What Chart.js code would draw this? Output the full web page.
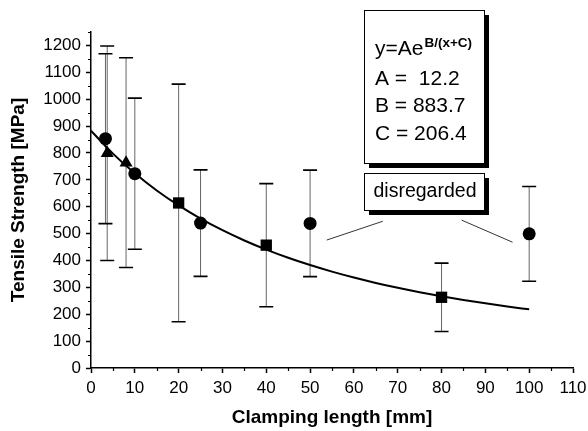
<!DOCTYPE html>
<html lang="en">
<head>
<meta charset="UTF-8">
<title>Tensile Strength vs Clamping Length</title>
<script src="https://cdn.jsdelivr.net/npm/chart.js"></script>
<style>
    body {
        margin: 0;
        padding: 0;
        background-color: #ffffff;
    }
    .chart-container {
        position: relative;
        width: 588px;
        height: 431px;
    }
</style>
</head>
<body>
<div class="chart-container">
    <canvas id="strengthChart"></canvas>
</div>
<script>
    // specimen groups: clamping length [mm], mean strength [MPa], scatter [MPa]
    const circleX = [3.3, 10, 25, 50, 100];
    const circleY = [853, 723, 539, 538, 499];
    const circleErr = [316, 281, 198, 198, 176];

    const triangleX = [3.7, 8];
    const triangleY = [799, 764];
    const triangleErr = [399, 390];

    const squareX = [20, 40, 80];
    const squareY = [614, 457, 263];
    const squareErr = [442, 229, 127];

    // fit y = A * e^(B / (x + C))
    const fitA = 12.2;
    const fitB = 883.7;
    const fitC = 206.4;
    const fitX = [0, 5, 10, 15, 20, 25, 30, 35, 40, 45, 50, 55, 60, 65, 70, 75, 80, 85, 90, 95, 100];

    const FONT = "'Liberation Sans', Arial, sans-serif";

    function toPoints(xs, ys) {
        return xs.map((x, i) => ({ x: x, y: ys[i] }));
    }

    const fitPoints = fitX.map(x => ({ x: x, y: fitA * Math.exp(fitB / (x + fitC)) }));

    // vertical scatter bars with caps, drawn under the markers
    const errorBars = {
        id: 'errorBars',
        beforeDatasetsDraw(chart) {
            const ctx = chart.ctx;
            const yScale = chart.scales.y;
            chart.data.datasets.forEach((ds, i) => {
                if (!ds.errors) return;
                const meta = chart.getDatasetMeta(i);
                meta.data.forEach((pt, j) => {
                    const v = ds.data[j].y;
                    const top = yScale.getPixelForValue(v + ds.errors[j]);
                    const bottom = yScale.getPixelForValue(v - ds.errors[j]);
                    ctx.save();
                    ctx.strokeStyle = '#666666';
                    ctx.lineWidth = 1;
                    ctx.beginPath();
                    ctx.moveTo(pt.x, top);
                    ctx.lineTo(pt.x, bottom);
                    ctx.stroke();
                    ctx.strokeStyle = '#000000';
                    ctx.lineWidth = 1.6;
                    ctx.beginPath();
                    ctx.moveTo(pt.x - 7, top);
                    ctx.lineTo(pt.x + 7, top);
                    ctx.moveTo(pt.x - 7, bottom);
                    ctx.lineTo(pt.x + 7, bottom);
                    ctx.stroke();
                    ctx.restore();
                });
            });
        }
    };

    function shadowBox(ctx, x0, y0, x1, y1) {
        ctx.fillStyle = '#000000';
        ctx.fillRect(x0 + 5, y0 + 5, x1 - x0, y1 - y0);
        ctx.fillStyle = '#ffffff';
        ctx.fillRect(x0, y0, x1 - x0, y1 - y0);
        ctx.strokeStyle = '#000000';
        ctx.lineWidth = 1;
        ctx.strokeRect(x0 + 0.5, y0 + 0.5, x1 - x0, y1 - y0);
    }

    // minor ticks, fit parameter box and the "disregarded" note
    const annotations = {
        id: 'annotations',
        afterDraw(chart) {
            const ctx = chart.ctx;
            const xs = chart.scales.x;
            const ys = chart.scales.y;
            const area = chart.chartArea;
            ctx.save();

            ctx.strokeStyle = '#000000';
            ctx.lineWidth = 1.2;
            ctx.beginPath();
            for (let v = 5; v < 110; v += 10) {
                const px = Math.round(xs.getPixelForValue(v)) + 0.5;
                ctx.moveTo(px, area.bottom);
                ctx.lineTo(px, area.bottom + 3);
            }
            for (let v = 50; v <= 1250; v += 100) {
                const py = Math.round(ys.getPixelForValue(v)) + 0.5;
                ctx.moveTo(area.left, py);
                ctx.lineTo(area.left - 3, py);
            }
            ctx.stroke();

            // connectors from the note to the two outlying points
            ctx.strokeStyle = '#333333';
            ctx.lineWidth = 1;
            ctx.beginPath();
            ctx.moveTo(xs.getPixelForValue(66.6), ys.getPixelForValue(546));
            ctx.lineTo(xs.getPixelForValue(53.8), ys.getPixelForValue(476));
            ctx.moveTo(xs.getPixelForValue(84.6), ys.getPixelForValue(550));
            ctx.lineTo(xs.getPixelForValue(96.2), ys.getPixelForValue(468));
            ctx.stroke();

            // parameter box
            const bx0 = Math.round(xs.getPixelForValue(62.3));
            const bx1 = Math.round(xs.getPixelForValue(89.7));
            const by0 = Math.round(ys.getPixelForValue(1330));
            const by1 = Math.round(ys.getPixelForValue(762));
            shadowBox(ctx, bx0, by0, bx1, by1);

            ctx.fillStyle = '#000000';
            ctx.textBaseline = 'alphabetic';
            ctx.textAlign = 'left';
            ctx.font = '21px ' + FONT;
            const tx = bx0 + 11;
            ctx.fillText('y=Ae', tx, by0 + 45);
            const w = ctx.measureText('y=Ae').width;
            ctx.font = 'bold 13.5px ' + FONT;
            ctx.fillText('B/(x+C)', tx + w + 1, by0 + 37);
            ctx.font = '21px ' + FONT;
            ctx.fillText('A =  ' + fitA.toFixed(1), tx, by0 + 75);
            ctx.fillText('B = ' + fitB.toFixed(1), tx, by0 + 102);
            ctx.fillText('C = ' + fitC.toFixed(1), tx, by0 + 130);

            // note box
            const ny0 = Math.round(ys.getPixelForValue(724));
            const ny1 = Math.round(ys.getPixelForValue(587));
            shadowBox(ctx, bx0, ny0, bx1, ny1);
            ctx.fillStyle = '#000000';
            ctx.font = '19.5px ' + FONT;
            ctx.textAlign = 'center';
            ctx.textBaseline = 'middle';
            ctx.fillText('disregarded', (bx0 + bx1) / 2 + 1, (ny0 + ny1) / 2);

            ctx.restore();
        }
    };

    const ctx = document.getElementById('strengthChart').getContext('2d');

    const strengthChart = new Chart(ctx, {
        type: 'scatter',
        data: {
            datasets: [
                {
                    label: 'fit',
                    type: 'line',
                    data: fitPoints,
                    borderColor: '#000000',
                    borderWidth: 2,
                    pointRadius: 0,
                    cubicInterpolationMode: 'monotone',
                    fill: false,
                    order: 4
                },
                {
                    label: 'squares',
                    data: toPoints(squareX, squareY),
                    errors: squareErr,
                    pointStyle: 'rect',
                    pointRadius: 8,
                    backgroundColor: '#000000',
                    borderColor: '#000000',
                    borderWidth: 0,
                    order: 3
                },
                {
                    label: 'triangles',
                    data: toPoints(triangleX, triangleY),
                    errors: triangleErr,
                    pointStyle: 'triangle',
                    pointRadius: 7.5,
                    backgroundColor: '#000000',
                    borderColor: '#000000',
                    borderWidth: 0,
                    order: 2
                },
                {
                    label: 'circles',
                    data: toPoints(circleX, circleY),
                    errors: circleErr,
                    pointStyle: 'circle',
                    pointRadius: 6.5,
                    backgroundColor: '#000000',
                    borderColor: '#000000',
                    borderWidth: 0,
                    order: 1
                }
            ]
        },
        options: {
            responsive: true,
            maintainAspectRatio: false,
            animation: false,
            layout: {
                padding: { top: 32, right: 15, left: 0, bottom: 0 }
            },
            plugins: {
                legend: { display: false },
                tooltip: { enabled: false }
            },
            scales: {
                x: {
                    type: 'linear',
                    min: 0,
                    max: 110,
                    afterFit(scale) {
                        scale.height = 63;
                        scale.paddingRight = 0;
                    },
                    ticks: {
                        stepSize: 10,
                        padding: 5,
                        color: '#000000',
                        font: { family: FONT, size: 17 },
                        maxRotation: 0
                    },
                    grid: {
                        drawOnChartArea: false,
                        tickLength: 5,
                        tickColor: '#000000',
                        tickWidth: 1.5
                    },
                    border: { color: '#000000', width: 1.5 },
                    title: {
                        display: true,
                        text: 'Clamping length [mm]',
                        color: '#000000',
                        font: { family: FONT, size: 19, weight: 'bold' },
                        padding: { top: 4, bottom: 2 }
                    }
                },
                y: {
                    type: 'linear',
                    min: 0,
                    max: 1250,
                    afterFit(scale) { scale.width = 91; },
                    ticks: {
                        stepSize: 100,
                        includeBounds: false,
                        padding: 5,
                        color: '#000000',
                        font: { family: FONT, size: 17 },
                        callback: value => String(value)
                    },
                    grid: {
                        drawOnChartArea: false,
                        tickLength: 5,
                        tickColor: '#000000',
                        tickWidth: 1.5
                    },
                    border: { color: '#000000', width: 1.5 },
                    title: {
                        display: true,
                        text: 'Tensile Strength [MPa]',
                        color: '#000000',
                        font: { family: FONT, size: 19, weight: 'bold' },
                        padding: { top: 7, bottom: 4 }
                    }
                }
            }
        },
        plugins: [errorBars, annotations]
    });
</script>
</body>
</html>
